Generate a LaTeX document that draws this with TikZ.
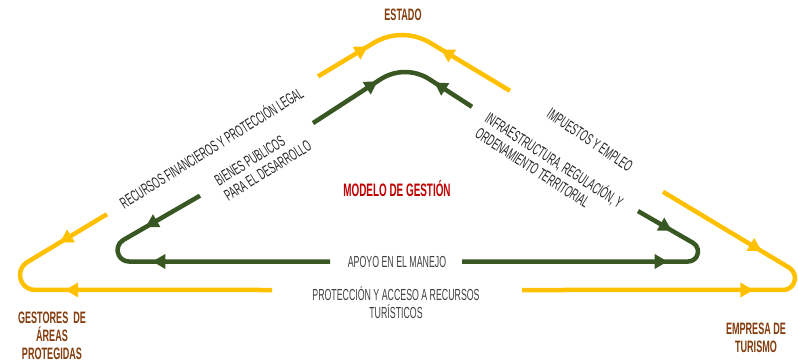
\documentclass[tikz,border=0pt]{standalone}
\usepackage{fontspec}
\setmainfont{Liberation Sans}[FakeStretch=0.55]
\usetikzlibrary{arrows.meta, decorations.markings}
\definecolor{Amarillo}{RGB}{255,192,0}
\definecolor{Verde}{RGB}{56,87,35}
\definecolor{Cafe}{RGB}{132,60,12}
\definecolor{Rojo}{RGB}{192,0,0}
\definecolor{Gris}{RGB}{64,64,64}

\begin{document}
\begin{tikzpicture}[
    x=1pt, y=-1pt,
    >={Triangle[length=13pt, width=14pt]},
    actor/.style={font=\bfseries\fontsize{16.5}{18}\selectfont, text=Cafe, align=center, inner sep=0pt},
    lbl/.style={font=\fontsize{16}{18}\selectfont, text=black!85, align=left, inner sep=0pt},
    flujo/.style 2 args={postaction={decorate}, decoration={markings,
        mark=at position #1 with {\arrow{>}},
        mark=at position #2 with {\arrowreversed{>}}}},
    ylw/.style={draw=Amarillo, line width=4.5pt},
    grn/.style={draw=Verde, line width=4.5pt}
]
\useasboundingbox (0,0) rectangle (798,361);

% actores
\node[actor] (estado) at (403,15) {ESTADO};
\node[actor] (gestores) at (52,336) {GESTORES\ \ DE\\ÁREAS\\PROTEGIDAS};
\node[actor] (empresa) at (756,338) {EMPRESA DE\\TURISMO};
\node[actor, text=Rojo, font=\bfseries\fontsize{18}{20}\selectfont] (modelo) at (397,189) {MODELO DE GESTIÓN};

% etiquetas
\node[lbl, text=Gris] (apoyo) at (397,262) {APOYO EN EL MANEJO};
\node[lbl, text=Gris, align=center] (proteccion) at (396,303) {PROTECCIÓN Y ACCESO A RECURSOS\\TURÍSTICOS};
\node[lbl, rotate=32] (recursos) at (211,147) {RECURSOS FINANCIEROS Y PROTECCIÓN LEGAL};
\node[lbl, rotate=32] (bienes) at (263,163) {BIENES PUBLICOS\\PARA EL DESARROLLO};
\node[lbl, rotate=-34] (impuestos) at (590,140) {IMPUESTOS Y EMPLEO};
\node[lbl, rotate=-33] (infra) at (550,167) {INFRAESTRUCTURA, REGULACIÓN, Y\\ORDENAMIENTO TERRITORIAL};

% flujo exterior (amarillo)
\coordinate (ya1) at (318,76.4);
\coordinate (ya2) at (373.7,42.9);
\coordinate (ya3) at (510,90.8);
\coordinate (yi1) at (107,214.2);
\coordinate (yi2) at (27.3,262.1);
\coordinate (yi3) at (272,290);
\coordinate (yd1) at (663,191.8);
\coordinate (yd2) at (789.2,267.7);
\coordinate (yd3) at (522,290);

\draw[ylw, flujo={58pt}{137pt}] (ya1) -- (ya2) arc[start angle=-121, end angle=-59, radius=55] -- (ya3);
\draw[ylw, flujo={55pt}{162pt}] (yi1) -- (yi2) arc[start angle=239, end angle=90, radius=15] -- (yi3);
\draw[ylw, flujo={115pt}{208pt}] (yd1) -- (yd2) arc[start angle=-59, end angle=90, radius=12] -- (yd3);

% flujo interior (verde)
\coordinate (va1) at (313,123.1);
\coordinate (va2) at (380.5,79.3);
\coordinate (va3) at (472,106.8);
\coordinate (vi1) at (200,195.7);
\coordinate (vi2) at (123.25,240.04);
\coordinate (vi3) at (330,261.5);
\coordinate (vd1) at (638,211.1);
\coordinate (vd2) at (693,242.84);
\coordinate (vd3) at (462,261.5);

\draw[grn, flujo={77pt}{138pt}] (va1) -- (va2) arc[start angle=-123, end angle=-57, radius=45] -- (va3);
\draw[grn, flujo={63pt}{142pt}] (vi1) -- (vi2) arc[start angle=240, end angle=90, radius=11.5] -- (vi3);
\draw[grn, flujo={39pt}{110pt}] (vd1) -- (vd2) arc[start angle=-60, end angle=90, radius=10] -- (vd3);

\end{tikzpicture}
\end{document}
